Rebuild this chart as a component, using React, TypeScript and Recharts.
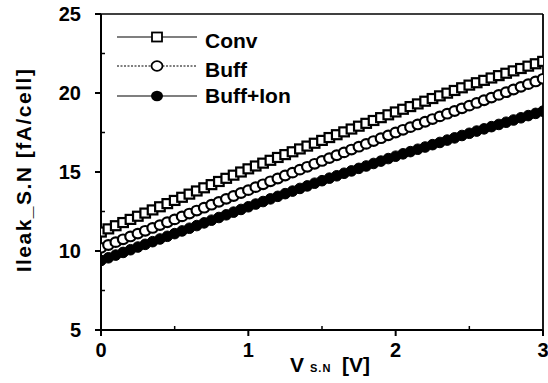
import React from "react";
import { LineChart, Line, XAxis, YAxis, ReferenceLine, Customized } from "recharts";

const voltages = [
  0.0, 0.05, 0.1, 0.15, 0.2, 0.25, 0.3, 0.35, 0.4, 0.45, 0.5, 0.55, 0.6, 0.65, 0.7, 0.75, 0.8, 0.85, 0.9, 0.95,
  1.0, 1.05, 1.1, 1.15, 1.2, 1.25, 1.3, 1.35, 1.4, 1.45, 1.5, 1.55, 1.6, 1.65, 1.7, 1.75, 1.8, 1.85, 1.9, 1.95,
  2.0, 2.05, 2.1, 2.15, 2.2, 2.25, 2.3, 2.35, 2.4, 2.45, 2.5, 2.55, 2.6, 2.65, 2.7, 2.75, 2.8, 2.85, 2.9, 2.95, 3.0,
];

const convValues = [
  11.2, 11.4, 11.6, 11.8, 12.0, 12.2, 12.4, 12.6, 12.8, 13.0, 13.2, 13.4, 13.6, 13.8, 14.0, 14.2, 14.4, 14.6, 14.8, 15.0,
  15.2, 15.38, 15.56, 15.74, 15.92, 16.1, 16.28, 16.46, 16.64, 16.82, 17.0, 17.18, 17.36, 17.54, 17.72, 17.9, 18.08, 18.26, 18.44, 18.62,
  18.8, 18.97, 19.14, 19.31, 19.48, 19.65, 19.82, 19.99, 20.16, 20.33, 20.5, 20.65, 20.8, 20.95, 21.1, 21.25, 21.4, 21.55, 21.7, 21.85, 22.0,
];

const buffValues = [
  10.2, 10.38, 10.56, 10.74, 10.92, 11.1, 11.28, 11.46, 11.64, 11.82, 12.0, 12.19, 12.37, 12.56, 12.74, 12.93, 13.11, 13.3, 13.48, 13.67,
  13.85, 14.04, 14.22, 14.41, 14.59, 14.78, 14.96, 15.15, 15.33, 15.52, 15.7, 15.88, 16.06, 16.24, 16.42, 16.6, 16.78, 16.96, 17.14, 17.32,
  17.5, 17.67, 17.84, 18.01, 18.18, 18.35, 18.52, 18.69, 18.86, 19.03, 19.2, 19.37, 19.54, 19.71, 19.88, 20.05, 20.22, 20.39, 20.56, 20.73, 20.9,
];

const buffIonValues = [
  9.4, 9.57, 9.74, 9.91, 10.08, 10.25, 10.42, 10.59, 10.76, 10.93, 11.1, 11.27, 11.44, 11.61, 11.78, 11.95, 12.12, 12.29, 12.46, 12.63,
  12.8, 12.97, 13.13, 13.3, 13.46, 13.63, 13.79, 13.96, 14.12, 14.29, 14.45, 14.61, 14.76, 14.92, 15.07, 15.23, 15.38, 15.54, 15.69, 15.85,
  16.0, 16.15, 16.29, 16.44, 16.58, 16.73, 16.87, 17.02, 17.16, 17.31, 17.45, 17.59, 17.73, 17.87, 18.01, 18.15, 18.29, 18.43, 18.57, 18.71, 18.85,
];

const xTicks = [0, 0.5, 1, 1.5, 2, 2.5, 3];
const yTicks = [5, 7.5, 10, 12.5, 15, 17.5, 20, 22.5, 25];
const seriesNames = ["Conv", "Buff", "Buff+Ion"];

const data = voltages.map((v, i) => ({
  v,
  conv: convValues[i],
  buff: buffValues[i],
  ion: buffIonValues[i],
}));

const FONT = "'Liberation Sans', Arial, Helvetica, sans-serif";

const XTick = (props: any) => {
  const { x, y, payload } = props;
  const val = payload.value;
  const major = Number.isInteger(val);
  return (
    <g>
      {major ? (
        <line x1={x} x2={x} y1={y} y2={y + 6} stroke="#000" strokeWidth={2} />
      ) : (
        <line x1={x} x2={x} y1={y} y2={y - 4} stroke="#000" strokeWidth={1.5} />
      )}
      {major && (
        <text x={x} y={y + 27} textAnchor="middle" fontFamily={FONT} fontWeight="bold" fontSize={20} fill="#000">
          {val}
        </text>
      )}
    </g>
  );
};

const YTick = (props: any) => {
  const { x, y, payload } = props;
  const val = payload.value;
  const major = Number.isInteger(val / 5);
  return (
    <g>
      {major ? (
        <line x1={x} x2={x - 6} y1={y} y2={y} stroke="#000" strokeWidth={2} />
      ) : (
        <line x1={x} x2={x + 4} y1={y} y2={y} stroke="#000" strokeWidth={1.5} />
      )}
      {major && (
        <text x={x - 20} y={y + 7} textAnchor="end" fontFamily={FONT} fontWeight="bold" fontSize={20} fill="#000">
          {val}
        </text>
      )}
    </g>
  );
};

const squareDot = (p: any) => {
  const { cx, cy, index } = p;
  if (cx == null || cy == null) return <g key={`s${index}`} />;
  return <rect key={`s${index}`} x={cx - 4.8} y={cy - 4.5} width={9.6} height={9} fill="#fff" stroke="#000" strokeWidth={2.2} />;
};

const openDot = (p: any) => {
  const { cx, cy, index } = p;
  if (cx == null || cy == null) return <g key={`o${index}`} />;
  return <ellipse key={`o${index}`} cx={cx} cy={cy} rx={5.2} ry={4.8} fill="#fff" stroke="#000" strokeWidth={2.2} />;
};

const filledDot = (p: any) => {
  const { cx, cy, index } = p;
  if (cx == null || cy == null) return <g key={`f${index}`} />;
  return <circle key={`f${index}`} cx={cx} cy={cy} r={5.3} fill="#000" stroke="#000" strokeWidth={1} />;
};

const LegendAndLabels = () => {
  const rows = [37, 66, 96];
  return (
    <g>
      <line x1={117} x2={197} y1={rows[0]} y2={rows[0]} stroke="#000" strokeWidth={1.2} />
      <rect x={152} y={rows[0] - 4.5} width={10} height={9} fill="#fff" stroke="#000" strokeWidth={1.8} />
      <line x1={117} x2={197} y1={rows[1]} y2={rows[1]} stroke="#000" strokeWidth={1.2} strokeDasharray="2 1.5" />
      <ellipse cx={157} cy={rows[1]} rx={5.5} ry={4.8} fill="#fff" stroke="#000" strokeWidth={1.8} />
      <line x1={117} x2={197} y1={rows[2]} y2={rows[2]} stroke="#000" strokeWidth={1.2} />
      <ellipse cx={157} cy={rows[2]} rx={6} ry={5.2} fill="#000" />
      {seriesNames.map((n, i) => (
        <text key={n} x={205} y={[48, 77, 103][i]} fontFamily={FONT} fontWeight="bold" fontSize={21} fill="#000">
          {n}
        </text>
      ))}
      <text
        x={0}
        y={0}
        transform="translate(31,170) rotate(-90)"
        textAnchor="middle"
        fontFamily={FONT}
        fontWeight="bold"
        fontSize={21}
        letterSpacing={1.5}
        fill="#000"
      >
        Ileak_S.N [fA/cell]
      </text>
      <text y={372} fontFamily={FONT} fontWeight="bold" fill="#000">
        <tspan x={290} fontSize={21}>V</tspan>
        <tspan x={310} fontSize={11} letterSpacing={1}>S.N</tspan>
        <tspan x={342} fontSize={21}>[V]</tspan>
      </text>
    </g>
  );
};

export default function App() {
  return (
    <div style={{ position: "absolute", left: 0, top: 0, width: 548, height: 383, background: "#fff" }}>
      <LineChart width={548} height={383} data={data} margin={{ top: 14, right: 5, left: 0, bottom: 0 }}>
        <XAxis
          dataKey="v"
          type="number"
          domain={[0, 3]}
          ticks={xTicks}
          interval={0}
          height={53}
          tickSize={0}
          tickMargin={0}
          tickLine={false}
          tick={<XTick />}
          axisLine={{ stroke: "#000", strokeWidth: 2 }}
          allowDataOverflow
        />
        <YAxis
          type="number"
          domain={[5, 25]}
          ticks={yTicks}
          interval={0}
          width={101}
          tickSize={0}
          tickMargin={0}
          tickLine={false}
          tick={<YTick />}
          axisLine={{ stroke: "#000", strokeWidth: 2 }}
          allowDataOverflow
        />
        <ReferenceLine y={25} stroke="#000" strokeWidth={1.5} />
        <ReferenceLine x={3} stroke="#000" strokeWidth={1.8} />
        <Line dataKey="ion" stroke="none" dot={filledDot} isAnimationActive={false} />
        <Line dataKey="buff" stroke="none" dot={openDot} isAnimationActive={false} />
        <Line dataKey="conv" stroke="none" dot={squareDot} isAnimationActive={false} />
        <Customized component={LegendAndLabels} />
      </LineChart>
    </div>
  );
}
